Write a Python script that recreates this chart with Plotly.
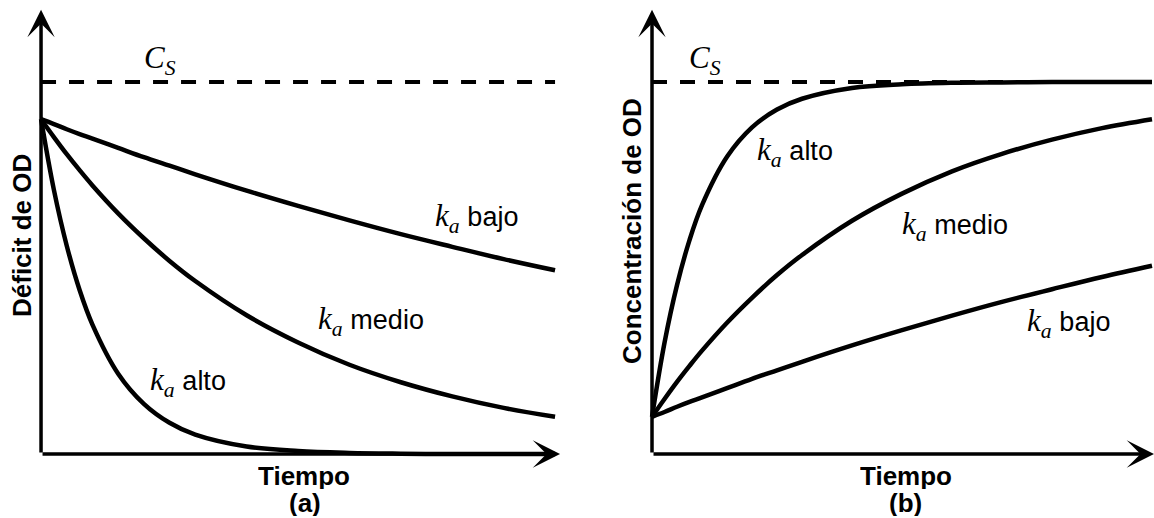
import plotly.graph_objects as go

# Time axis (arbitrary units) shared by every curve
tiempo = [0, 0.25, 0.5, 0.75, 1, 1.5, 2, 2.5, 3, 4, 5, 6, 7, 8, 9, 10]

# Saturation concentration (dashed reference line)
cs_t = [0, 10]
cs_val = [10, 10]

# (a) Oxygen deficit for three reaeration rates
deficit_bajo = [9.00, 8.87, 8.73, 8.60, 8.48, 8.23, 7.98, 7.75, 7.52, 7.08, 6.67, 6.28, 5.91, 5.57, 5.24, 4.94]
deficit_medio = [9.00, 8.52, 8.06, 7.63, 7.22, 6.47, 5.80, 5.19, 4.65, 3.73, 3.00, 2.40, 1.93, 1.55, 1.24, 1.00]
deficit_alto = [9.00, 7.10, 5.60, 4.41, 3.48, 2.16, 1.35, 0.84, 0.52, 0.20, 0.08, 0.03, 0.01, 0.00, 0.00, 0.00]

# (b) Dissolved oxygen concentration for three reaeration rates
conc_bajo = [1.00, 1.13, 1.27, 1.40, 1.52, 1.77, 2.02, 2.25, 2.48, 2.92, 3.33, 3.72, 4.09, 4.43, 4.76, 5.06]
conc_medio = [1.00, 1.48, 1.94, 2.37, 2.78, 3.53, 4.20, 4.81, 5.35, 6.27, 7.00, 7.60, 8.07, 8.45, 8.76, 9.00]
conc_alto = [1.00, 2.99, 4.54, 5.75, 6.69, 7.99, 8.78, 9.26, 9.55, 9.84, 9.94, 9.98, 9.99, 10.00, 10.00, 10.00]

SERIF = "Liberation Serif"
SANS = "Liberation Sans"
LINE_W = 4.5

fig = go.Figure()


def curve(x, y, xa, ya, dash="solid"):
    fig.add_trace(go.Scatter(
        x=x, y=y, xaxis=xa, yaxis=ya, mode="lines",
        line=dict(color="black", width=LINE_W if dash == "solid" else 4,
                  shape="spline", dash=dash),
        hoverinfo="skip", showlegend=False,
    ))


DASH = "15px,13px"
curve(cs_t, cs_val, "x", "y", DASH)
curve(tiempo, deficit_bajo, "x", "y")
curve(tiempo, deficit_medio, "x", "y")
curve(tiempo, deficit_alto, "x", "y")

curve(cs_t, cs_val, "x2", "y2", DASH)
curve(tiempo, conc_bajo, "x2", "y2")
curve(tiempo, conc_medio, "x2", "y2")
curve(tiempo, conc_alto, "x2", "y2")

hidden = dict(visible=False, fixedrange=True)
fig.update_layout(
    width=1154, height=518,
    margin=dict(l=0, r=0, t=0, b=0),
    paper_bgcolor="white", plot_bgcolor="rgba(0,0,0,0)",
    xaxis=dict(domain=[0.0222, 0.4853], range=[-0.3, 10.097], **hidden),
    yaxis=dict(domain=[0.0876, 0.9853], range=[-0.5, 12], **hidden),
    xaxis2=dict(domain=[0.552, 1.0], range=[-0.3, 10.04], **hidden),
    yaxis2=dict(domain=[0.0876, 0.9853], range=[-0.5, 12], anchor="x2", **hidden),
)

annotations = []

# Axis lines with arrow heads
for xr, yr, xend in (("x", "y", 10.097), ("x2", "y2", 10.04)):
    annotations.append(dict(x=0, y=11.94, ax=0, ay=0, xref=xr, yref=yr, axref=xr, ayref=yr,
                            text="", showarrow=True, arrowhead=3, arrowsize=1.3,
                            arrowwidth=3.5, arrowcolor="black"))
    annotations.append(dict(x=xend, y=0, ax=0, ay=0, xref=xr, yref=yr, axref=xr, ayref=yr,
                            text="", showarrow=True, arrowhead=3, arrowsize=1.3,
                            arrowwidth=3.5, arrowcolor="black"))


def ka(label):
    return ("<i>k</i><sub><i>a</i></sub> "
            f"<span style='font-family:{SANS}; font-size:27px'>{label}</span>")


CS_TEXT = "<i>C</i><sub><i>S</i></sub>"

labels = [
    ("x", "y", 1.96, 10.6, CS_TEXT),
    ("x", "y", 2.08, 1.94, ka("alto")),
    ("x", "y", 5.35, 3.58, ka("medio")),
    ("x", "y", 7.63, 6.34, ka("bajo")),
    ("x2", "y2", 0.70, 10.6, CS_TEXT),
    ("x2", "y2", 2.06, 8.12, ka("alto")),
    ("x2", "y2", 4.96, 6.13, ka("medio")),
    ("x2", "y2", 7.46, 3.52, ka("bajo")),
]
for xr, yr, xv, yv, txt in labels:
    annotations.append(dict(x=xv, y=yv, xref=xr, yref=yr, text=txt, showarrow=False,
                            xanchor="left", yanchor="middle",
                            font=dict(family=SERIF, size=31, color="black")))

# Axis titles
title_font = dict(family=SANS, size=26, color="black")
x_titles = [
    (304, 476, "<b>Tiempo</b>"),
    (305, 503, "<b>(a)</b>"),
    (906, 476, "<b>Tiempo</b>"),
    (905, 503, "<b>(b)</b>"),
]
for px, py, txt in x_titles:
    annotations.append(dict(x=px / 1154, y=(518 - py) / 518, xref="paper", yref="paper",
                            text=txt, showarrow=False, borderpad=0, height=26,
                            xanchor="center", yanchor="middle", font=title_font))

y_titles = [
    (22, 236, "<b>Déficit de OD</b>"),
    (632, 231, "<b>Concentración de OD</b>"),
]
for px, py, txt in y_titles:
    annotations.append(dict(x=px / 1154, y=(518 - py) / 518, xref="paper", yref="paper",
                            text=txt, showarrow=False, textangle=-90, borderpad=0,
                            xanchor="center", yanchor="middle", font=title_font))

fig.update_layout(annotations=annotations)

fig.write_html("out.html")
